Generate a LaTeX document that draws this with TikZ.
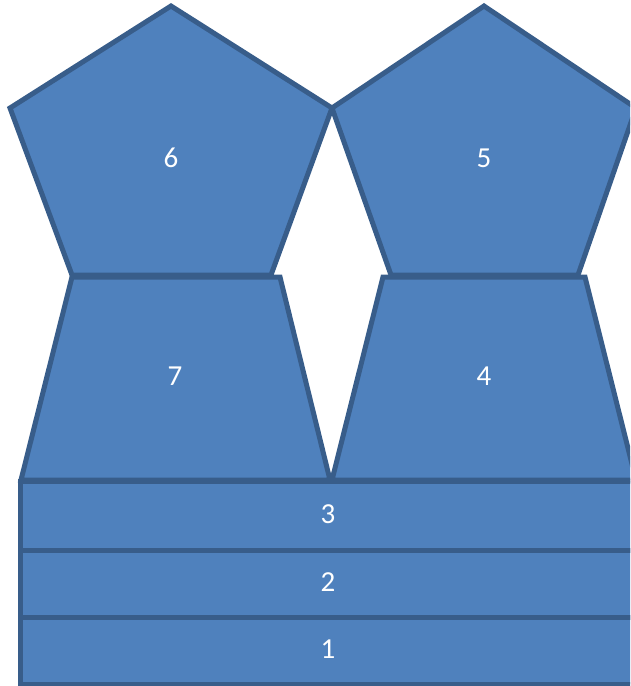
\documentclass[tikz,border=0pt]{standalone}
\usepackage{fontspec}
\setmainfont{Carlito}
\definecolor{fillblue}{HTML}{4F81BD}
\definecolor{edgeblue}{HTML}{385D8A}
\tikzset{
  part/.style={fill=fillblue, draw=edgeblue, line width=5pt, line join=miter},
  lbl/.style={text=white, font=\fontsize{29}{34}\selectfont, inner sep=0pt}
}
\begin{document}
\begin{tikzpicture}[x=1pt,y=-1pt]
\useasboundingbox (0,0) rectangle (630,686);
\clip (0,0) rectangle (630,686);
% bottom rectangles
\draw[part] (20,617) rectangle (636,684);
\draw[part] (20,550) rectangle (636,617);
\draw[part] (20,481) rectangle (636,550);
% pentagons
\draw[part] (171,6) -- (332,108) -- (271,275) -- (72,275) -- (10,108) -- cycle;
\draw[part] (484,6) -- (636,108) -- (578,275) -- (391,275) -- (332,108) -- cycle;
% trapezoids
\draw[part] (21,480) -- (72,277) -- (280,277) -- (330,480) -- cycle;
\draw[part] (332,480) -- (383,277) -- (585,277) -- (636,480) -- cycle;
% labels
\node[lbl] (n1) at (328,649) {1};
\node[lbl] (n2) at (328,582) {2};
\node[lbl] (n3) at (328,514) {3};
\node[lbl] (n4) at (484,376) {4};
\node[lbl] (n5) at (484,158) {5};
\node[lbl] (n6) at (171,158) {6};
\node[lbl] (n7) at (175,376) {7};
\end{tikzpicture}
\end{document}
